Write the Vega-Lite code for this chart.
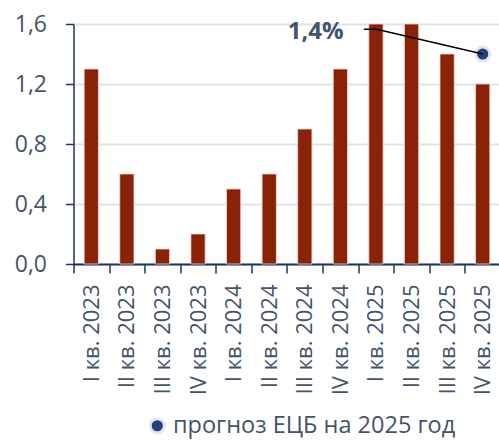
{
  "$schema": "https://vega.github.io/schema/vega-lite/v6.json",
  "width": 427,
  "height": 240,
  "autosize": "none",
  "padding": {"left": 73.5, "top": 24, "right": 0, "bottom": 177},
  "config": {
    "view": {"stroke": null},
    "font": "Open Sans",
    "axis": {"labelFont": "Open Sans", "labelColor": "#44546a"},
    "legend": {"labelFont": "Open Sans"}
  },
  "datasets": {
    "bars": [
      {"q": "I кв. 2023", "v": 1.3},
      {"q": "II кв. 2023", "v": 0.6},
      {"q": "III кв. 2023", "v": 0.1},
      {"q": "IV кв. 2023", "v": 0.2},
      {"q": "I кв. 2024", "v": 0.5},
      {"q": "II кв. 2024", "v": 0.6},
      {"q": "III кв. 2024", "v": 0.9},
      {"q": "IV кв. 2024", "v": 1.3},
      {"q": "I кв. 2025", "v": 1.6},
      {"q": "II кв. 2025", "v": 1.6},
      {"q": "III кв. 2025", "v": 1.4},
      {"q": "IV кв. 2025", "v": 1.2}
    ],
    "forecast": [
      {"q": "IV кв. 2025", "v": 1.4, "s": "прогноз ЕЦБ на 2025 год"}
    ],
    "leader": [
      {"pos": 8.16, "v": 1.565},
      {"pos": 8.52, "v": 1.565},
      {"pos": 11.5, "v": 1.4}
    ],
    "label": [
      {"pos": 7.59, "v": 1.55, "t": "1,4%"}
    ]
  },
  "layer": [
    {
      "layer": [
        {
          "data": {"name": "bars"},
          "mark": {"type": "bar", "color": "#8a2208", "stroke": "#f2d6cf", "strokeWidth": 0.8},
          "encoding": {
            "x": {
              "field": "q", "type": "nominal", "sort": null,
              "scale": {"paddingInner": 0.6, "paddingOuter": 0.3},
              "axis": {
                "title": null, "labelAngle": -90, "labelFontSize": 22,
                "labelAlign": "right", "labelBaseline": "middle",
                "labelPadding": 11, "tickOffset": -17.8, "labelOffset": 17.8,
                "domainColor": "#1d3557", "domainWidth": 2,
                "tickColor": "#1d3557", "tickWidth": 1.5, "tickSize": 9,
                "grid": false
              }
            },
            "y": {
              "field": "v", "type": "quantitative",
              "scale": {"domain": [0, 1.6]},
              "axis": {
                "title": null, "values": [0, 0.4, 0.8, 1.2, 1.6],
                "labelExpr": "replace(format(datum.value, '.1f'), '.', ',')",
                "labelFontSize": 23, "labelPadding": 19,
                "domainColor": "#1d3557", "domainWidth": 1.5,
                "tickColor": "#1d3557", "tickWidth": 1.5, "tickSize": 8,
                "gridColor": "#dfe4ea", "gridWidth": 2
              }
            }
          }
        },
        {
          "data": {"name": "forecast"},
          "mark": {"type": "point", "filled": true, "size": 200, "opacity": 1, "stroke": "#e4e6ec", "strokeWidth": 3},
          "encoding": {
            "x": {"field": "q", "type": "nominal", "sort": null},
            "y": {"field": "v", "type": "quantitative"},
            "color": {
              "field": "s", "type": "nominal",
              "scale": {"range": ["#25407c"]},
              "legend": {
                "title": null, "orient": "none", "legendX": 72, "legendY": 390,
                "symbolType": "circle", "symbolSize": 200,
                "symbolStrokeColor": "#e4e6ec", "symbolStrokeWidth": 3,
                "symbolOpacity": 1,
                "labelFontSize": 23.5, "labelColor": "#44546a", "labelLimit": 400
              }
            }
          }
        }
      ]
    },
    {
      "layer": [
        {
          "data": {"name": "leader"},
          "mark": {"type": "line", "color": "#000000", "strokeWidth": 1.3},
          "encoding": {
            "x": {"field": "pos", "type": "quantitative", "scale": {"domain": [0, 12]}, "axis": null},
            "y": {"field": "v", "type": "quantitative"}
          }
        },
        {
          "data": {"name": "label"},
          "mark": {"type": "text", "align": "right", "baseline": "middle", "fontSize": 24, "fontWeight": "bold", "color": "#44546a"},
          "encoding": {
            "x": {"field": "pos", "type": "quantitative", "scale": {"domain": [0, 12]}, "axis": null},
            "y": {"field": "v", "type": "quantitative"},
            "text": {"field": "t"}
          }
        }
      ]
    }
  ],
  "resolve": {"scale": {"x": "independent"}}
}
